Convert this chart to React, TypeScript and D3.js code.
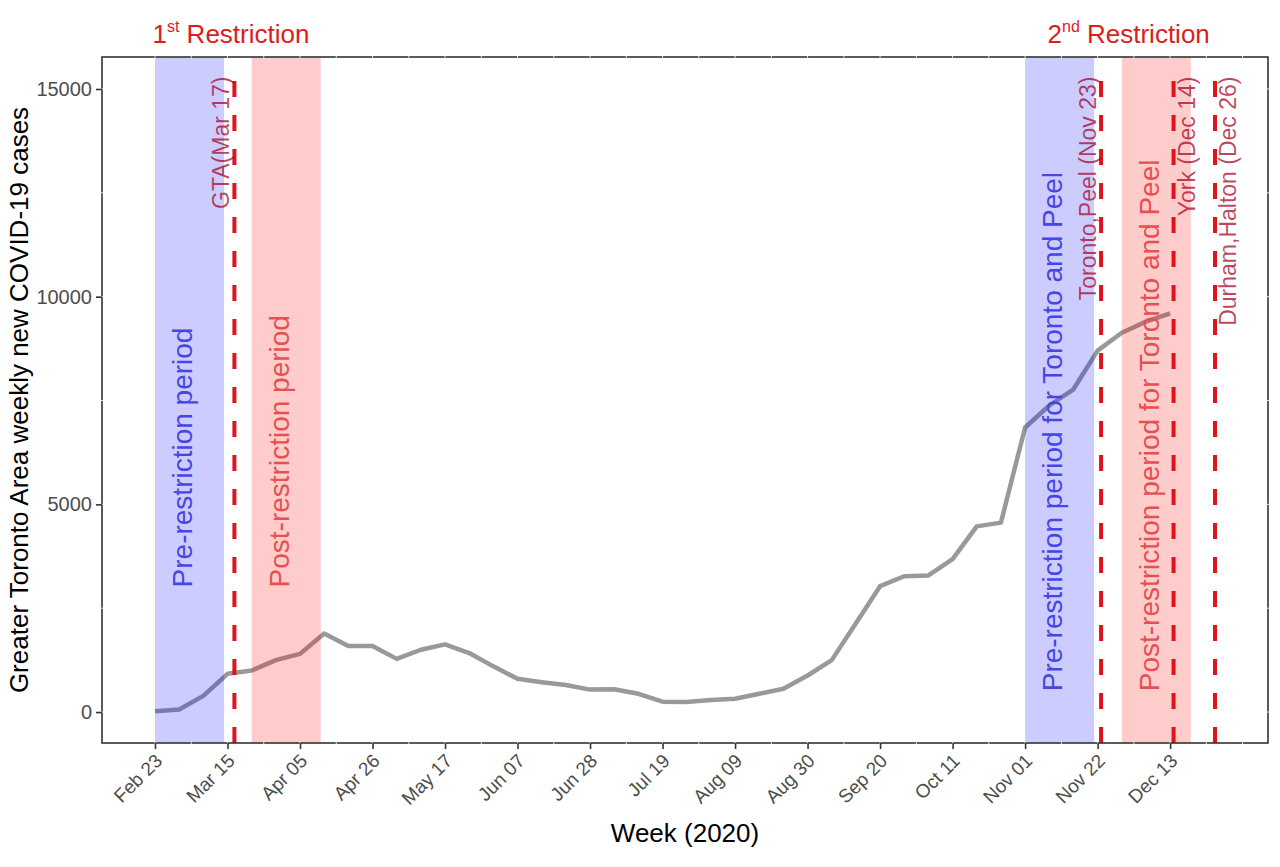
import React, { useRef, useEffect } from "react";
import * as d3 from "d3";

// weekly series (week start dates, 2020)
const weeks = [
  "2020-02-23", "2020-03-01", "2020-03-08", "2020-03-15", "2020-03-22", "2020-03-29",
  "2020-04-05", "2020-04-12", "2020-04-19", "2020-04-26", "2020-05-03", "2020-05-10",
  "2020-05-17", "2020-05-24", "2020-05-31", "2020-06-07", "2020-06-14", "2020-06-21",
  "2020-06-28", "2020-07-05", "2020-07-12", "2020-07-19", "2020-07-26", "2020-08-02",
  "2020-08-09", "2020-08-16", "2020-08-23", "2020-08-30", "2020-09-06", "2020-09-13",
  "2020-09-20", "2020-09-27", "2020-10-04", "2020-10-11", "2020-10-18", "2020-10-25",
  "2020-11-01", "2020-11-08", "2020-11-15", "2020-11-22", "2020-11-29", "2020-12-06",
  "2020-12-13",
];
const cases = [
  20, 60, 390, 920, 1000, 1250, 1400, 1890, 1590, 1590, 1280, 1500,
  1630, 1420, 1100, 800, 720, 650, 540, 550, 440, 250, 240, 290,
  320, 440, 560, 880, 1250, 2140, 3030, 3270, 3290, 3680, 4470, 4560,
  6850, 7380, 7770, 8700, 9130, 9400, 9600,
];

const tickDates = [
  "2020-02-23", "2020-03-15", "2020-04-05", "2020-04-26", "2020-05-17",
  "2020-06-07", "2020-06-28", "2020-07-19", "2020-08-09", "2020-08-30",
  "2020-09-20", "2020-10-11", "2020-11-01", "2020-11-22", "2020-12-13",
];
const yTicks = [0, 5000, 10000, 15000];

// shaded periods
const bandStart = ["2020-02-23", "2020-03-22", "2020-11-01", "2020-11-29"];
const bandEnd = ["2020-03-14", "2020-04-11", "2020-11-21", "2020-12-19"];
const bandKind = ["pre", "post", "pre", "post"];
const bandLabels = [
  "Pre-restriction period",
  "Post-restriction period",
  "Pre-restriction period for Toronto and Peel",
  "Post-restriction period for Toronto and Peel",
];
const bandLabelStart = [3000, 3000, 500, 500];

// restriction dates
const restrictionDates = ["2020-03-17", "2020-11-23", "2020-12-14", "2020-12-26"];
const restrictionLabels = [
  "GTA(Mar 17)",
  "Toronto,Peel (Nov 23)",
  "York (Dec 14)",
  "Durham,Halton (Dec 26)",
];

const headerDates = ["2020-03-16", "2020-12-01"];
const headerOrdinal = ["1", "2"];
const headerSuffix = ["st", "nd"];

const parse = d3.timeParse("%Y-%m-%d");

const App = () => {
  const ref = useRef<SVGSVGElement>(null);

  useEffect(() => {
    document.body.style.margin = "0";
    const svg = d3.select(ref.current);
    svg.selectAll("*").remove();

    const width = 1280;
    const height = 867;
    const margin = { top: 57, right: 12, bottom: 124, left: 102 };
    const innerW = width - margin.left - margin.right;
    const innerH = height - margin.top - margin.bottom;
    const font = "'Liberation Sans', Arial, sans-serif";

    const data = weeks.map((w, i) => ({ date: parse(w) as Date, value: cases[i] }));

    // ggplot-like 5% expansion around Feb 23 .. Dec 26
    const x0 = parse(weeks[0]) as Date;
    const x1 = parse(restrictionDates[3]) as Date;
    const span = +x1 - +x0;
    const xScale = d3
      .scaleTime()
      .domain([new Date(+x0 - span * 0.05), new Date(+x1 + span * 0.05)])
      .range([0, innerW]);

    const yScale = d3.scaleLinear().domain([-745, 15770]).range([innerH, 0]);

    const g = svg
      .append("g")
      .attr("transform", `translate(${margin.left},${margin.top})`);

    // series line (under the shaded bands)
    const line = d3
      .line<{ date: Date; value: number }>()
      .x((d) => xScale(d.date))
      .y((d) => yScale(d.value));

    g.append("path")
      .datum(data)
      .attr("d", line)
      .attr("fill", "none")
      .attr("stroke", "#999999")
      .attr("stroke-width", 4.5)
      .attr("stroke-linejoin", "round");

    // bands
    g.selectAll(".band")
      .data(bandStart)
      .join("rect")
      .attr("class", "band")
      .attr("x", (d) => xScale(parse(d) as Date))
      .attr("width", (d, i) => xScale(parse(bandEnd[i]) as Date) - xScale(parse(d) as Date))
      .attr("y", 0)
      .attr("height", innerH)
      .attr("fill", (d, i) => (bandKind[i] === "pre" ? "#0000ff" : "#ff0000"))
      .attr("fill-opacity", 0.2);

    // band labels
    g.selectAll(".band-label")
      .data(bandLabels)
      .join("text")
      .attr("class", "band-label")
      .attr("transform", (d, i) => {
        const cx =
          (xScale(parse(bandStart[i]) as Date) + xScale(parse(bandEnd[i]) as Date)) / 2 - 7;
        return `translate(${cx},${yScale(bandLabelStart[i])}) rotate(-90)`;
      })
      .attr("dy", "0.35em")
      .attr("text-anchor", "start")
      .style("font-family", font)
      .style("font-size", "28px")
      .style("fill", (d, i) => (bandKind[i] === "pre" ? "#4646e6" : "#e65050"))
      .text((d) => d);

    // restriction lines
    g.selectAll(".vline")
      .data(restrictionDates)
      .join("line")
      .attr("class", "vline")
      .attr("x1", (d) => xScale(parse(d) as Date))
      .attr("x2", (d) => xScale(parse(d) as Date))
      .attr("y1", innerH)
      .attr("y2", yScale(15350))
      .attr("stroke", "#e0121c")
      .attr("stroke-width", 4)
      .attr("stroke-dasharray", "16,18");

    const labelSide = [-1, -1, 1, 1];
    g.selectAll(".vlabel")
      .data(restrictionLabels)
      .join("text")
      .attr("class", "vlabel")
      .attr("transform", (d, i) => {
        const lx = xScale(parse(restrictionDates[i]) as Date) + labelSide[i] * 13;
        return `translate(${lx},${yScale(15300)}) rotate(-90)`;
      })
      .attr("dy", "0.35em")
      .attr("text-anchor", "end")
      .style("font-family", font)
      .style("font-size", "23px")
      .style("fill", "#a50021")
      .style("fill-opacity", 0.72)
      .text((d) => d);

    // panel border
    g.append("rect")
      .attr("x", 0)
      .attr("y", 0)
      .attr("width", innerW)
      .attr("height", innerH)
      .attr("fill", "none")
      .attr("stroke", "#333333")
      .attr("stroke-width", 1.6);

    // faint white grid marks crossing the border
    const xMinor = d3.range(0, 50, 1.5).map((k) => new Date(+x0 + k * 7 * 864e5));
    xMinor.forEach((d) => {
      const px = xScale(d);
      if (px <= 1 || px >= innerW - 1) return;
      g.append("line").attr("x1", px).attr("x2", px).attr("y1", -1.5).attr("y2", 1.5)
        .attr("stroke", "#fff").attr("stroke-width", 1).attr("stroke-opacity", 0.8);
      g.append("line").attr("x1", px).attr("x2", px).attr("y1", innerH - 1.5).attr("y2", innerH + 1.5)
        .attr("stroke", "#fff").attr("stroke-width", 1).attr("stroke-opacity", 0.8);
    });
    d3.range(-2500, 16000, 2500).forEach((v) => {
      const py = yScale(v);
      if (py <= 1 || py >= innerH - 1) return;
      g.append("line").attr("x1", -1.5).attr("x2", 1.5).attr("y1", py).attr("y2", py)
        .attr("stroke", "#fff").attr("stroke-width", 1).attr("stroke-opacity", 0.8);
      g.append("line").attr("x1", innerW - 1.5).attr("x2", innerW + 1.5).attr("y1", py).attr("y2", py)
        .attr("stroke", "#fff").attr("stroke-width", 1).attr("stroke-opacity", 0.8);
    });

    // x axis
    const fmt = d3.timeFormat("%b %d");
    const xAxis = d3
      .axisBottom(xScale)
      .tickValues(tickDates.map((d) => parse(d) as Date))
      .tickSize(6)
      .tickSizeOuter(0)
      .tickFormat((d) => fmt(d as Date));
    const xg = g.append("g").attr("transform", `translate(0,${innerH})`).call(xAxis);
    xg.select(".domain").remove();
    xg.selectAll(".tick line").attr("stroke", "#333333").attr("stroke-width", 1.6);
    xg.selectAll(".tick text")
      .attr("x", 0)
      .attr("y", 0)
      .attr("dy", 0)
      .attr("transform", "translate(8,19) rotate(-45)")
      .attr("text-anchor", "end")
      .style("font-family", font)
      .style("font-size", "19px")
      .style("fill", "#4d4d4d");

    // y axis
    const yAxis = d3
      .axisLeft(yScale)
      .tickValues(yTicks)
      .tickSize(6)
      .tickSizeOuter(0)
      .tickPadding(4)
      .tickFormat(d3.format("d"));
    const yg = g.append("g").call(yAxis);
    yg.select(".domain").remove();
    yg.selectAll(".tick line").attr("stroke", "#333333").attr("stroke-width", 1.6);
    yg.selectAll(".tick text")
      .style("font-family", font)
      .style("font-size", "20px")
      .style("fill", "#4d4d4d");

    // axis titles
    svg.append("text")
      .attr("x", margin.left + innerW / 2)
      .attr("y", 842)
      .attr("text-anchor", "middle")
      .style("font-family", font)
      .style("font-size", "26px")
      .style("fill", "#000")
      .text("Week (2020)");

    svg.append("text")
      .attr("transform", `translate(28,${margin.top + innerH / 2}) rotate(-90)`)
      .attr("text-anchor", "middle")
      .style("font-family", font)
      .style("font-size", "26px")
      .style("fill", "#000")
      .text("Greater Toronto Area weekly new COVID-19 cases");

    // restriction headers
    headerDates.forEach((d, i) => {
      const t = svg.append("text")
        .attr("x", margin.left + xScale(parse(d) as Date))
        .attr("y", 43)
        .attr("text-anchor", "middle")
        .style("font-family", font)
        .style("font-size", "26px")
        .style("fill", "#dd1c1c");
      t.append("tspan").text(headerOrdinal[i]);
      t.append("tspan").attr("dy", -11).style("font-size", "16px").text(headerSuffix[i]);
      t.append("tspan").attr("dy", 11).text(" Restriction");
    });
  }, []);

  return <svg ref={ref} width={1280} height={867} style={{ display: "block" }} />;
};

export default App;
